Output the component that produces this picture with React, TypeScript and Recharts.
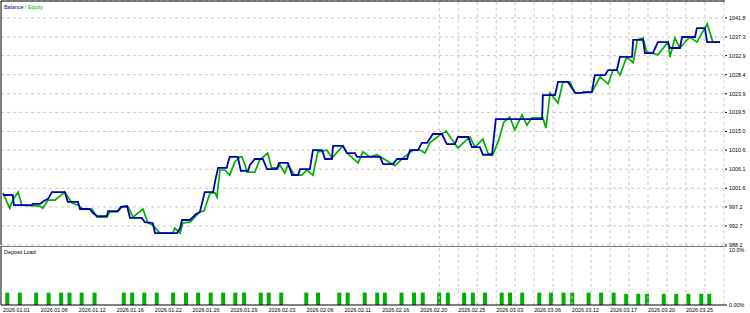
import React from 'react';
import {
  LineChart,
  Line,
  BarChart,
  Bar,
  XAxis,
  YAxis,
  CartesianGrid,
  ReferenceLine,
} from 'recharts';

// x is the deal counter; 10 deals between two date labels
const balance: [number, number][] = [
  [0, 1000.0], [2.6, 1000.0], [2.9, 997.6], [7.6, 997.6], [7.9, 997.9], [9.8, 997.9],
  [10.8, 998.6], [11.9, 999.1], [12.9, 1000.7], [16.3, 1000.7], [17.1, 998.4], [19.8, 998.4],
  [20.3, 996.7], [22.9, 996.7], [23.7, 995.8], [24.8, 995.0], [27.4, 995.0], [27.7, 996.2],
  [30.3, 996.2], [31.1, 997.2], [32.7, 997.4], [33.5, 994.6], [36.6, 994.6], [37.4, 993.6],
  [39.5, 993.4], [40.1, 991.0], [45.9, 991.0], [46.7, 992.2], [47.2, 994.1], [49.3, 994.1],
  [50.9, 995.5], [51.9, 996.0], [52.5, 998.1], [53.2, 1000.7], [55.4, 1000.7], [55.9, 1003.1],
  [56.7, 1006.4], [59.0, 1006.4], [59.3, 1007.6], [59.8, 1009.0], [61.9, 1009.0], [62.7, 1005.7],
  [64.6, 1005.7], [65.1, 1007.1], [66.4, 1008.5], [68.5, 1008.5], [69.6, 1006.1], [72.2, 1006.1],
  [72.8, 1007.6], [75.1, 1007.6], [76.2, 1004.7], [77.8, 1004.7], [78.3, 1006.1], [80.9, 1006.1],
  [81.7, 1010.6], [84.1, 1010.6], [84.9, 1008.5], [86.7, 1008.5], [87.0, 1011.6], [89.6, 1011.6],
  [90.7, 1009.9], [92.8, 1009.9], [93.3, 1009.0], [99.4, 1009.0], [100.2, 1007.3], [102.8, 1007.3],
  [103.9, 1008.5], [106.5, 1008.5], [107.3, 1010.6], [109.4, 1010.6], [110.4, 1012.3], [111.8, 1012.3],
  [113.3, 1014.4], [115.7, 1014.4], [117.0, 1012.0], [119.1, 1012.0], [119.9, 1013.7], [122.6, 1013.7],
  [123.6, 1011.3], [125.7, 1011.3], [126.5, 1009.5], [128.9, 1009.5], [129.9, 1017.9], [142.1, 1017.9],
  [142.3, 1023.6], [145.5, 1023.6], [146.3, 1026.7], [148.9, 1026.7], [150.8, 1024.1], [152.6, 1024.1],
  [152.9, 1024.3], [155.2, 1024.3], [156.0, 1028.3], [158.7, 1028.3], [159.5, 1029.5], [161.8, 1029.5],
  [162.6, 1032.6], [165.8, 1032.6], [166.1, 1036.6], [168.7, 1036.6], [169.2, 1033.5], [171.3, 1033.5],
  [172.6, 1036.1], [175.3, 1036.1], [175.8, 1034.7], [178.4, 1034.7], [179.0, 1037.3], [182.4, 1037.3],
  [182.9, 1039.4], [185.0, 1039.4], [185.6, 1036.1], [189.0, 1036.1],
];

const equity: [number, number][] = [
  [0, 1000.5], [1.8, 996.9], [2.6, 998.8], [4.0, 1000.7], [5.0, 997.6], [9.8, 997.4],
  [10.5, 996.9], [11.9, 998.8], [13.7, 998.8], [16.3, 1000.7], [18.2, 998.1], [19.8, 997.6],
  [21.1, 996.7], [23.5, 996.7], [24.8, 994.8], [27.4, 994.8], [28.2, 996.0], [30.1, 996.0],
  [31.4, 997.2], [33.0, 997.2], [34.3, 994.8], [36.9, 996.7], [38.2, 993.4], [39.5, 992.9],
  [41.4, 991.0], [44.8, 991.0], [45.3, 992.2], [46.7, 991.0], [47.4, 993.4], [49.3, 993.6],
  [51.9, 996.0], [53.0, 996.2], [54.6, 1000.5], [55.9, 1000.5], [56.4, 999.5], [57.2, 1005.9],
  [58.5, 1005.9], [59.8, 1004.7], [61.1, 1007.8], [62.5, 1009.0], [63.0, 1009.0], [63.8, 1007.1],
  [64.3, 1005.4], [66.4, 1005.4], [67.7, 1008.3], [69.8, 1009.9], [70.8, 1006.4], [72.5, 1006.4],
  [73.0, 1007.1], [74.3, 1005.2], [75.1, 1007.1], [76.9, 1004.7], [78.8, 1004.7], [80.1, 1005.9],
  [81.7, 1004.7], [83.0, 1010.2], [85.4, 1010.6], [86.7, 1008.7], [89.6, 1011.6], [90.7, 1009.9],
  [93.6, 1007.6], [94.9, 1010.2], [96.7, 1009.0], [98.6, 1009.5], [103.3, 1006.9], [105.4, 1008.7],
  [108.1, 1010.6], [109.9, 1010.6], [111.2, 1009.9], [112.5, 1012.3], [115.2, 1014.2], [116.8, 1015.1],
  [119.9, 1011.1], [123.1, 1013.7], [124.4, 1011.3], [126.5, 1013.2], [127.8, 1009.9], [129.1, 1009.5],
  [130.7, 1013.0], [132.0, 1017.2], [133.6, 1018.4], [134.9, 1015.4], [136.8, 1018.9], [138.1, 1016.5],
  [139.4, 1018.2], [142.3, 1018.2], [143.1, 1015.8], [144.2, 1024.1], [146.3, 1021.7], [147.6, 1026.7],
  [149.4, 1026.7], [150.8, 1024.1], [152.6, 1024.1], [155.2, 1024.3], [157.4, 1027.9], [159.5, 1026.2],
  [160.8, 1029.5], [161.8, 1029.5], [162.6, 1028.3], [164.4, 1032.6], [166.1, 1031.2], [167.2, 1036.6],
  [168.7, 1037.1], [169.7, 1033.8], [172.6, 1033.1], [175.3, 1036.1], [175.8, 1032.6], [177.1, 1037.1],
  [178.4, 1034.7], [181.0, 1037.3], [182.9, 1036.1], [185.6, 1040.4], [187.1, 1036.1], [189.0, 1036.1],
];

const loadDeals = [
  1.1, 4.4, 8.7, 12.0, 15.3, 17.5, 20.7, 24.1, 31.8, 34.0, 37.2, 40.5, 44.8, 48.2, 51.4, 54.7,
  58.0, 61.2, 63.5, 67.9, 70.0, 73.3, 79.9, 83.0, 88.6, 90.8, 95.3, 98.6, 100.6, 105.0, 108.3,
  110.6, 114.9, 117.2, 121.5, 123.8, 127.0, 131.4, 133.6, 136.8, 141.3, 144.4, 147.7, 150.0,
  154.3, 157.6, 160.9, 164.2, 167.4, 169.7, 174.1, 177.4, 180.6, 184.0, 186.1,
];
const loadValues = [
  2.1, 2.1, 2.1, 2.1, 2.1, 2.1, 2.1, 2.1, 2.1, 2.1, 2.1, 2.1, 2.1, 2.1, 2.1, 2.1,
  2.1, 2.1, 2.1, 2.1, 2.1, 2.1, 2.1, 2.1, 2.1, 2.1, 2.1, 2.1, 2.1, 2.1, 2.1,
  2.1, 2.1, 2.1, 2.1, 2.1, 2.1, 2.1, 2.1, 2.1, 2.1, 2.1, 2.1, 2.1,
  2.1, 2.1, 2.1, 1.9, 1.9, 1.9, 1.9, 1.9, 1.9, 1.9, 1.9,
];

const dateLabels = [
  '2026.01.01', '2026.01.06', '2026.01.12', '2026.01.16', '2026.01.22', '2026.01.26',
  '2026.01.29', '2026.02.03', '2026.02.06', '2026.02.11', '2026.02.16', '2026.02.20',
  '2026.02.25', '2026.03.03', '2026.03.06', '2026.03.12', '2026.03.17', '2026.03.20',
  '2026.03.25',
];
const dateTicks = dateLabels.map((_, i) => i * 10);

const valueLabels = [
  '988.2', '992.7', '997.2', '1001.6', '1006.1', '1010.6', '1015.0',
  '1019.5', '1023.9', '1028.4', '1032.9', '1037.3', '1041.8',
];
const valueTicks = valueLabels.map(Number);

const loadLabels = ['0.00%', '10.0%'];
const loadTicks = [0, 10];

const gridDeals = [115, 120, 125, 130, 135, 140, 145, 150, 155, 160, 165, 170, 175, 180, 185, 190];

const X_DOMAIN: [number, number] = [-0.5, 190.3];
const Y_DOMAIN: [number, number] = [988.2, 1045.8];

const FONT = '"Liberation Sans", Arial, sans-serif';
const FS = 5.4;
const GRID = '#c8c8c8';
const BLUE = '#0000b4';
const GREEN = '#00b000';

const balanceData = balance.map(([deal, value]) => ({ deal, value }));
const equityData = equity.map(([deal, value]) => ({ deal, value }));
const loadData = loadDeals.map((deal, i) => ({ deal, load: loadValues[i] }));

function DateTick({ x, y, payload }: any) {
  const label = dateLabels[dateTicks.indexOf(payload.value)];
  return (
    <text x={x} y={y + 7} fontSize={FS} fontFamily={FONT} fill="#000" textAnchor="start">
      {label}
    </text>
  );
}

function LoadTick({ x, y, payload }: any) {
  const i = loadTicks.indexOf(payload.value);
  return (
    <text x={x} y={y + (i === 1 ? 5.5 : 2)} fontSize={FS} fontFamily={FONT} fill="#000" textAnchor="start">
      {loadLabels[i]}
    </text>
  );
}

export default function App() {
  return (
    <div style={{ position: 'absolute', left: 0, top: 0, width: 750, height: 313, background: '#fff' }}>
      <div style={{ position: 'absolute', left: 0, top: 0 }}>
        <LineChart width={750} height={251} margin={{ top: 1, right: 0, bottom: 6, left: 1 }}>
          <CartesianGrid vertical={false} stroke={GRID} strokeDasharray="3 3" />
          <XAxis type="number" dataKey="deal" domain={X_DOMAIN} allowDataOverflow hide />
          <YAxis
            orientation="right"
            type="number"
            domain={Y_DOMAIN}
            ticks={valueTicks}
            interval={0}
            allowDataOverflow
            width={25}
            axisLine={false}
            tickSize={2}
            tickMargin={2}
            tickLine={{ stroke: '#000' }}
            tick={{ fontSize: FS, fontFamily: FONT, fill: '#000', textAnchor: 'start' }}
            tickFormatter={(v: number) => valueLabels[valueTicks.indexOf(v)]}
          />
          {gridDeals.map((d) => (
            <ReferenceLine key={d} x={d} stroke={GRID} strokeDasharray="3 3" />
          ))}
          <ReferenceLine y={Y_DOMAIN[1]} stroke="#000" />
          <ReferenceLine x={X_DOMAIN[0]} stroke="#000" />
          <Line
            data={equityData}
            dataKey="value"
            type="linear"
            stroke={GREEN}
            strokeWidth={1.7}
            dot={false}
            isAnimationActive={false}
          />
          <Line
            data={balanceData}
            dataKey="value"
            type="linear"
            stroke={BLUE}
            strokeWidth={1.8}
            dot={false}
            isAnimationActive={false}
          />
        </LineChart>
      </div>
      <div style={{ position: 'absolute', left: 0, top: 246 }}>
        <BarChart width={750} height={67} data={loadData} margin={{ top: 0, right: 0, bottom: 0, left: 1 }} barSize={4}>
          <XAxis
            type="number"
            dataKey="deal"
            domain={X_DOMAIN}
            ticks={dateTicks}
            interval={0}
            allowDataOverflow
            height={8}
            tickSize={0}
            tickMargin={0}
            tickLine={false}
            axisLine={{ stroke: '#000' }}
            tick={<DateTick />}
          />
          <YAxis
            orientation="right"
            type="number"
            domain={[0, 10]}
            ticks={loadTicks}
            interval={0}
            width={25}
            axisLine={false}
            tickSize={2}
            tickMargin={2}
            tickLine={{ stroke: '#000' }}
            tick={<LoadTick />}
          />
          {gridDeals.map((d) => (
            <ReferenceLine key={d} x={d} stroke={GRID} strokeDasharray="3 3" />
          ))}
          <ReferenceLine y={10} stroke="#000" />
          <ReferenceLine x={X_DOMAIN[0]} stroke="#000" />
          <Bar dataKey="load" fill={GREEN} isAnimationActive={false} />
        </BarChart>
      </div>
      <svg width={750} height={313} style={{ position: 'absolute', left: 0, top: 0, pointerEvents: 'none' }}>
        <text x={4} y={8.5} fontSize={FS} fontFamily={FONT}>
          <tspan fill={BLUE}>Balance</tspan>
          <tspan fill="#606080"> / </tspan>
          <tspan fill={GREEN}>Equity</tspan>
        </text>
        <text x={4} y={253.5} fontSize={FS} fontFamily={FONT} fill="#000">
          Deposit Load
        </text>
      </svg>
    </div>
  );
}
